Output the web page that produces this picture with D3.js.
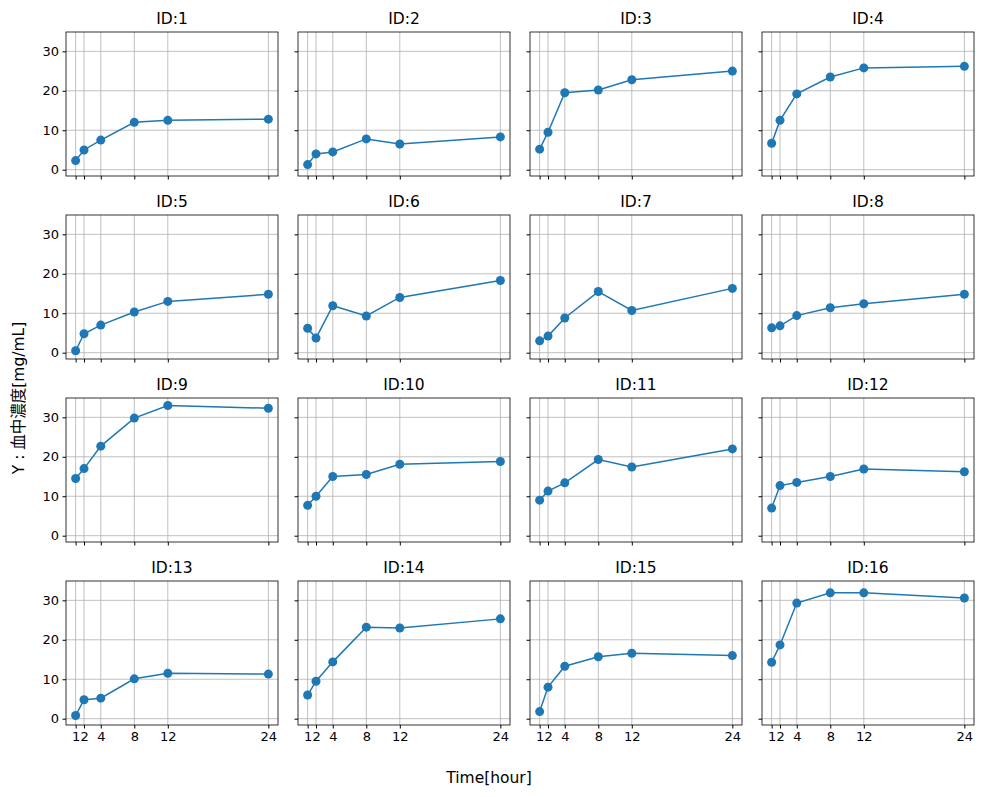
<!DOCTYPE html>
<html><head><meta charset="utf-8">
<script src="https://cdn.jsdelivr.net/npm/d3@7"></script>
<style>body{margin:0;background:#fff}text{font-family:"DejaVu Sans","Noto Sans CJK JP",sans-serif}</style>
</head><body><svg id="c" width="984" height="797"></svg>
<script>
const times = [1, 2, 4, 8, 12, 24];
const data = [
  [2.3, 5, 7.5, 12, 12.5, 12.8],
  [1.3, 4, 4.5, 7.8, 6.5, 8.3],
  [5.2, 9.5, 19.5, 20.2, 22.8, 25],
  [6.7, 12.5, 19.2, 23.5, 25.8, 26.2],
  [0.5, 4.8, 7, 10.3, 13, 14.8],
  [6.2, 3.7, 11.9, 9.3, 14, 18.3],
  [3, 4.2, 8.8, 15.5, 10.7, 16.3],
  [6.3, 6.8, 9.4, 11.4, 12.4, 14.8],
  [14.5, 17, 22.7, 29.8, 33, 32.3],
  [7.7, 10, 15, 15.5, 18.1, 18.8],
  [9, 11.3, 13.4, 19.3, 17.4, 22],
  [7, 12.7, 13.5, 15, 16.9, 16.2],
  [0.8, 4.8, 5.2, 10.1, 11.5, 11.3],
  [6, 9.5, 14.4, 23.2, 23, 25.3],
  [1.8, 8, 13.3, 15.7, 16.6, 16],
  [14.3, 18.7, 29.3, 31.9, 31.9, 30.6]
];
const svg = d3.select("#c");
const W = 212, H = 144;
const lefts = [66, 298, 530, 762], tops = [32, 215, 398, 581];
const x = d3.scaleLinear().domain([-0.15, 25.15]).range([0, W]);
const y = d3.scaleLinear().domain([-1.6, 34.9]).range([H, 0]);
const color = "#1f77b4";

data.forEach((vals, i) => {
  const r = Math.floor(i / 4), c = i % 4;
  const g = svg.append("g").attr("transform", `translate(${lefts[c]},${tops[r]})`);
  // grid
  g.selectAll(".gx").data(times).enter().append("line")
    .attr("x1", d => x(d)).attr("x2", d => x(d)).attr("y1", 0).attr("y2", H)
    .attr("stroke", "#b0b0b0").attr("stroke-width", 0.8);
  g.selectAll(".gy").data([0, 10, 20, 30]).enter().append("line")
    .attr("y1", d => y(d)).attr("y2", d => y(d)).attr("x1", 0).attr("x2", W)
    .attr("stroke", "#b0b0b0").attr("stroke-width", 0.8);
  // axes
  const xa = g.append("g").attr("transform", `translate(0,${H})`)
    .call(d3.axisBottom(x).tickValues(times).tickSize(3.5).tickPadding(3.5)
      .tickFormat(r === 3 ? (d => d) : ""));
  const ya = g.append("g")
    .call(d3.axisLeft(y).tickValues([0, 10, 20, 30]).tickSize(3.5).tickPadding(3.5)
      .tickFormat(c === 0 ? (d => d) : ""));
  [xa, ya].forEach(a => {
    a.select(".domain").remove();
    a.selectAll("text").attr("font-size", 13).attr("fill", "#000");
    a.selectAll("line").attr("stroke", "#000");
  });
  g.append("rect").attr("width", W).attr("height", H)
    .attr("fill", "none").attr("stroke", "#000").attr("stroke-width", 0.8);
  // line + dots
  const pts = times.map((t, j) => ({ t, v: vals[j] }));
  g.append("path").datum(pts).attr("fill", "none").attr("stroke", color).attr("stroke-width", 1.5)
    .attr("d", d3.line().x(d => x(d.t)).y(d => y(d.v)));
  g.selectAll(".dot").data(pts).enter().append("circle")
    .attr("cx", d => x(d.t)).attr("cy", d => y(d.v)).attr("r", 4.5).attr("fill", color);
  g.append("text").attr("x", W / 2).attr("y", -8).attr("text-anchor", "middle")
    .attr("font-size", 15.5).text("ID:" + (i + 1));
});

svg.append("text").attr("x", 489).attr("y", 783).attr("text-anchor", "middle")
  .attr("font-size", 15.5).text("Time[hour]");
svg.append("text").attr("transform", "translate(24,398) rotate(-90)").attr("text-anchor", "middle")
  .attr("font-size", 15.5).text("Y : 血中濃度[mg/mL]");
</script></body></html>
